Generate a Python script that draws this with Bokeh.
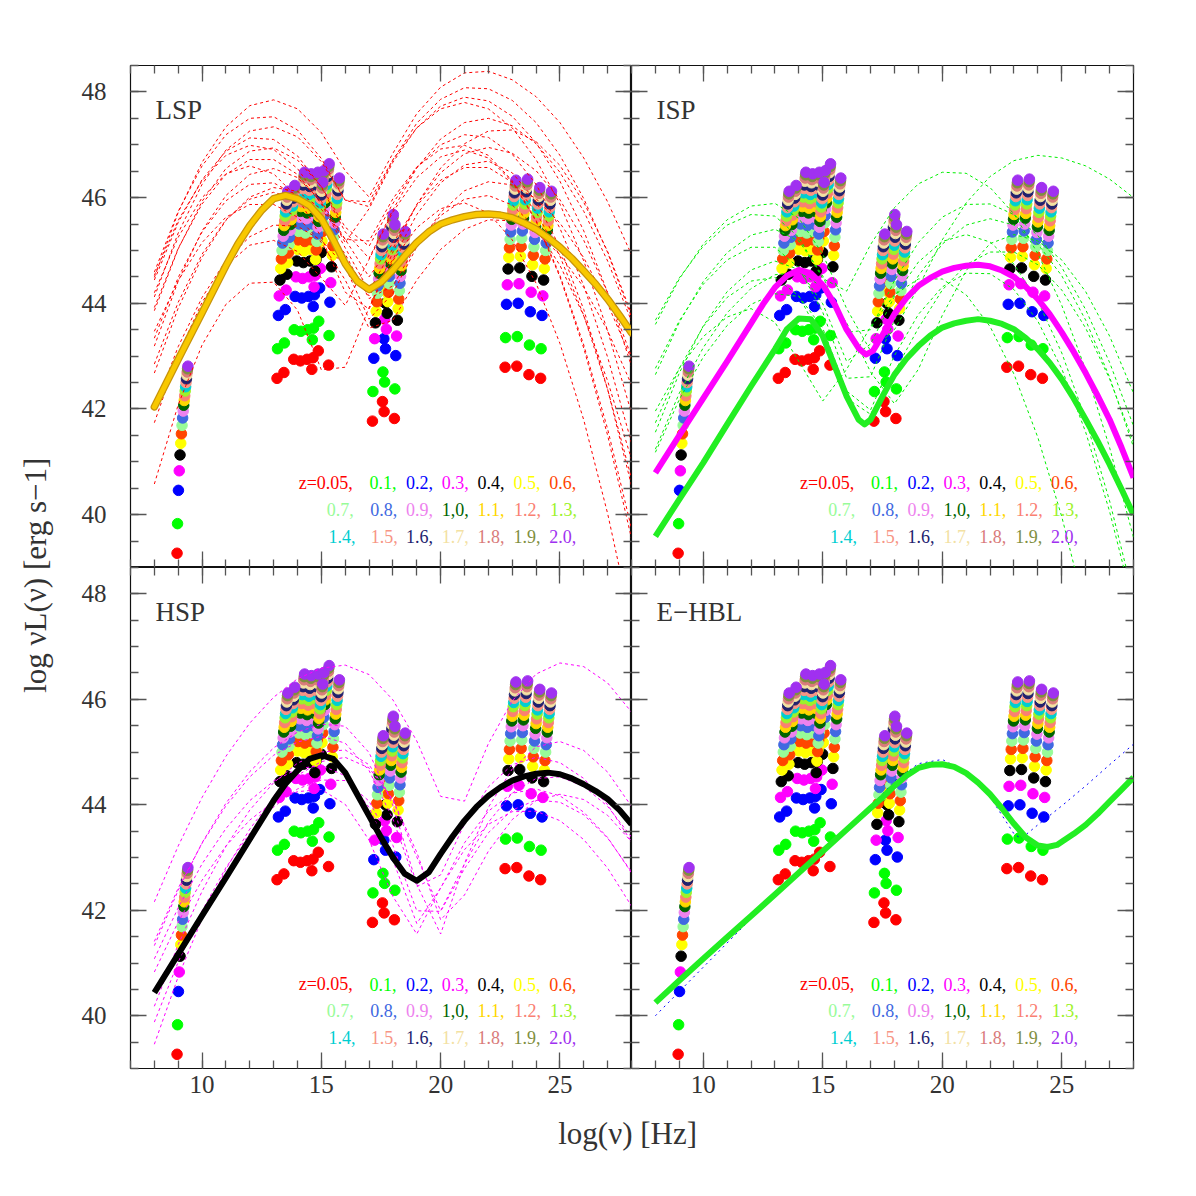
import numpy as np
from bokeh.plotting import figure
from bokeh.models import LinearAxis, Range1d, SingleIntervalTicker, Label
from bokeh.layouts import row, column
from bokeh.embed import file_html
from bokeh.resources import INLINE

# ------------------------------------------------------------------ data
z_values = [0.05, 0.1, 0.2, 0.3, 0.4, 0.5, 0.6, 0.7, 0.8, 0.9, 1.0,
            1.1, 1.2, 1.3, 1.4, 1.5, 1.6, 1.7, 1.8, 1.9, 2.0]
z_labels = ["z=0.05,", "0.1,", "0.2,", "0.3,", "0.4,", "0.5,", "0.6,",
            "0.7,", "0.8,", "0.9,", "1,0,", "1.1,", "1.2,", "1.3,",
            "1.4,", "1.5,", "1.6,", "1.7,", "1.8,", "1.9,", "2.0,"]
z_colors = ["#ff0000", "#00ff00", "#0000ff", "#ff00ff", "#000000", "#ffff00", "#ff4500",
            "#98fb98", "#4169e1", "#ee82ee", "#006400", "#ffd700", "#fa8072", "#9cf22a",
            "#00ced1", "#f79585", "#22226e", "#f3e1a3", "#d97b7b", "#7f8f3f", "#a030f0"]
# luminosity of the limit at each z, relative to z=0.05 (read from the radio column)
lum_offset = [0.0, 0.56, 1.19, 1.56, 1.86, 2.08, 2.26, 2.42, 2.56, 2.69, 2.80,
              2.89, 2.98, 3.07, 3.15, 3.23, 3.30, 3.37, 3.43, 3.49, 3.54]

# observed log frequency of each band column and its log L at z = 0.05
radio_nu = [8.93]
radio_L = [39.27]
optical_nu = [13.12, 13.41, 13.82, 14.10, 14.38, 14.63, 14.85, 14.58, 15.28]
optical_L = [42.58, 42.69, 42.94, 42.91, 42.94, 42.97, 43.10, 42.75, 42.83]
xray_nu = [17.12, 17.54, 17.61, 18.04]
xray_L = [41.77, 42.14, 41.95, 41.82]
gamma_nu = [22.68, 23.17, 23.68, 24.17]
gamma_L = [42.79, 42.81, 42.65, 42.58]

# grid of the thin (dotted) SED curves
sed_x = [8, 9, 10, 11, 12, 13, 14, 15, 16, 17, 18, 19, 20, 21, 22, 23, 24, 25, 26, 27, 28]

lsp_thin = [
    [44.49, 45.72, 46.67, 47.34, 47.74, 47.85, 47.68, 47.23, 46.51, 46.01, 46.84, 47.59, 48.09, 48.36, 48.39, 48.23, 47.91, 47.42, 46.75, 45.92, 44.92],
    [44.59, 45.74, 46.60, 47.19, 47.50, 47.53, 47.28, 46.74, 45.95, 45.83, 46.71, 47.41, 47.86, 48.08, 48.06, 47.84, 47.42, 46.80, 45.98, 44.96, 43.74],
    [44.12, 45.33, 46.25, 46.90, 47.26, 47.34, 47.15, 46.68, 45.95, 45.92, 46.72, 47.32, 47.68, 47.80, 47.68, 47.32, 46.72, 45.88, 44.80, 43.48, 41.92],
    [44.44, 45.53, 46.34, 46.88, 47.13, 47.10, 46.79, 46.20, 45.35, 44.85, 45.77, 46.56, 47.11, 47.42, 47.50, 47.36, 47.02, 46.48, 45.74, 44.80, 43.66],
    [43.86, 45.03, 45.93, 46.55, 46.88, 46.94, 46.71, 46.21, 45.44, 45.08, 45.89, 46.57, 47.00, 47.19, 47.14, 46.82, 46.25, 45.42, 44.33, 42.98, 41.36],
    [43.92, 45.04, 45.88, 46.44, 46.72, 46.72, 46.44, 45.88, 45.05, 44.23, 45.04, 45.87, 46.47, 46.83, 46.95, 46.84, 46.51, 45.96, 45.19, 44.20, 42.99],
    [43.19, 44.42, 45.37, 46.04, 46.44, 46.55, 46.38, 45.93, 45.21, 44.50, 45.14, 45.85, 46.33, 46.57, 46.57, 46.29, 45.73, 44.89, 43.77, 42.37, 40.69],
    [43.34, 44.49, 45.35, 45.94, 46.25, 46.28, 46.03, 45.49, 44.69, 43.70, 44.19, 45.07, 45.72, 46.13, 46.30, 46.24, 45.98, 45.52, 44.86, 43.99, 42.94],
    [42.85, 44.02, 44.93, 45.58, 45.97, 46.10, 45.97, 45.58, 44.93, 44.09, 44.33, 45.11, 45.66, 45.97, 46.04, 45.86, 45.42, 44.72, 43.76, 42.53, 41.05],
    [43.47, 44.43, 45.15, 45.63, 45.87, 45.87, 45.63, 45.15, 44.44, 43.53, 43.68, 44.44, 45.02, 45.40, 45.58, 45.56, 45.34, 44.92, 44.30, 43.48, 42.46],
    [40.58, 42.08, 43.21, 43.98, 44.38, 44.40, 43.87, 42.74, 42.79, 43.92, 44.81, 45.43, 45.79, 45.90, 45.71, 45.20, 44.38, 43.24, 41.79, 40.02, 37.94],
    [41.74, 43.03, 44.02, 44.71, 45.10, 45.19, 44.98, 44.48, 43.96, 44.83, 45.73, 46.38, 46.77, 46.90, 46.75, 46.30, 45.55, 44.50, 43.15, 41.50, 39.55],
    [44.53, 45.57, 46.32, 46.80, 46.99, 46.91, 46.55, 45.91, 45.15, 45.79, 46.67, 47.32, 47.73, 47.90, 47.83, 47.54, 47.04, 46.31, 45.37, 44.20, 42.81],
    [42.68, 43.91, 44.87, 45.57, 46.01, 46.19, 46.12, 45.78, 45.21, 45.18, 45.98, 46.58, 46.92, 46.99, 46.80, 46.32, 45.57, 44.53, 43.21, 41.62, 39.74],
    [44.20, 45.25, 46.00, 46.45, 46.60, 46.45, 46.00, 45.25, 44.21, 43.89, 44.97, 45.87, 46.56, 47.02, 47.26, 47.28, 47.06, 46.61, 45.91, 44.98, 43.80],
    [42.00, 43.18, 44.11, 44.81, 45.26, 45.48, 45.46, 45.19, 44.70, 44.14, 44.83, 45.68, 46.28, 46.62, 46.69, 46.47, 45.93, 45.06, 43.88, 42.37, 40.55],
]
isp_thin = [
    [43.60, 44.46, 45.12, 45.58, 45.84, 45.89, 45.61, 44.93, 43.90, 43.10, 43.50, 44.30, 45.20, 45.90, 46.40, 46.70, 46.80, 46.75, 46.60, 46.35, 46.00],
    [43.68, 44.48, 45.08, 45.48, 45.68, 45.65, 45.25, 44.47, 44.23, 45.11, 45.81, 46.26, 46.48, 46.46, 46.19, 45.69, 44.94, 43.96, 42.74, 41.27, 39.57],
    [42.65, 43.64, 44.41, 44.96, 45.29, 45.40, 45.18, 44.52, 43.45, 43.50, 44.43, 45.15, 45.63, 45.87, 45.88, 45.68, 45.28, 44.68, 43.88, 42.88, 41.68],
    [42.77, 43.67, 44.36, 44.82, 45.06, 45.06, 44.67, 43.83, 42.58, 42.61, 43.68, 44.52, 45.12, 45.48, 45.60, 45.48, 45.12, 44.52, 43.68, 42.60, 41.28],
    [41.56, 42.68, 43.57, 44.22, 44.63, 44.80, 44.64, 43.99, 42.90, 43.23, 44.13, 44.78, 45.17, 45.30, 45.16, 44.74, 44.04, 43.06, 41.80, 40.26, 38.44],
    [41.74, 42.77, 43.56, 44.11, 44.42, 44.49, 44.14, 43.29, 42.20, 41.90, 42.70, 43.53, 44.25, 44.73, 44.97, 44.97, 44.73, 44.25, 43.53, 42.57, 41.37],
    [41.18, 42.18, 42.98, 43.58, 43.98, 44.18, 44.13, 43.53, 42.34, 41.98, 43.01, 43.79, 44.31, 44.57, 44.56, 44.26, 43.66, 42.76, 41.56, 40.06, 38.26],
    [41.96, 42.77, 43.37, 43.74, 43.90, 43.64, 42.90, 42.15, 42.75, 43.56, 44.16, 44.46, 44.46, 44.16, 43.56, 42.66, 41.46, 39.96, 38.16, 36.06, 33.66],
    [41.24, 42.30, 43.16, 43.82, 44.28, 44.54, 44.59, 44.31, 43.63, 42.70, 42.10, 42.75, 43.77, 44.62, 45.13, 45.30, 45.18, 44.82, 44.22, 43.38, 42.30],
]
hsp_thin = [
    [42.16, 43.22, 44.14, 44.92, 45.55, 46.04, 46.39, 46.59, 46.65, 46.47, 45.99, 45.21, 44.16, 44.07, 45.16, 45.97, 46.48, 46.69, 46.62, 46.31, 45.76],
    [41.33, 42.38, 43.28, 44.03, 44.63, 45.08, 45.38, 45.53, 45.49, 44.99, 43.99, 42.49, 41.55, 42.89, 43.95, 44.68, 45.10, 45.20, 45.03, 44.62, 43.97],
    [41.41, 42.42, 43.27, 43.98, 44.53, 44.94, 45.19, 45.30, 45.17, 44.65, 43.73, 42.45, 42.67, 43.64, 44.34, 44.76, 44.90, 44.80, 44.50, 44.00, 43.30],
    [40.18, 41.35, 42.36, 43.21, 43.90, 44.42, 44.79, 45.00, 45.04, 44.76, 44.08, 43.01, 41.99, 42.88, 43.67, 44.22, 44.50, 44.53, 44.35, 43.97, 43.39],
    [41.08, 42.05, 42.88, 43.55, 44.08, 44.45, 44.68, 44.75, 44.55, 43.95, 42.95, 41.75, 42.42, 43.28, 43.88, 44.22, 44.30, 44.17, 43.86, 43.38, 42.71],
    [39.88, 41.02, 41.99, 42.81, 43.46, 43.96, 44.30, 44.47, 44.46, 44.07, 43.23, 41.99, 41.98, 42.79, 43.47, 43.90, 44.09, 44.05, 43.81, 43.37, 42.73],
    [40.83, 41.78, 42.57, 43.22, 43.71, 44.06, 44.25, 44.29, 44.01, 43.33, 42.26, 41.55, 42.43, 43.15, 43.63, 43.87, 43.88, 43.70, 43.34, 42.80, 42.08],
    [39.46, 40.74, 41.84, 42.78, 43.54, 44.14, 44.56, 44.82, 44.90, 44.70, 44.10, 43.10, 41.82, 42.29, 43.12, 43.72, 44.08, 44.20, 44.10, 43.80, 43.30],
]
ehbl_thin_x = [8, 9, 10, 11, 12, 13, 14, 15, 16, 17, 18, 19, 20, 21, 22, 22.5, 23, 23.3, 24, 25, 26, 27, 28]
ehbl_thin_y = [40.0, 40.46, 40.92, 41.38, 41.84, 42.3, 42.72, 43.13, 43.55, 43.97, 44.45, 44.78, 44.86,
               44.62, 44.15, 43.8, 43.45, 43.36, 43.62, 43.98, 44.36, 44.76, 45.15]

# thick average SEDs
lsp_avg_x = [8, 9, 10, 11, 11.5, 12, 12.5, 13, 13.5, 14, 14.5, 15, 15.5, 16, 16.5, 17, 17.5, 18, 18.5,
             19, 19.5, 20, 20.5, 21, 21.5, 22, 22.5, 23, 23.5, 24, 24.5, 25, 25.5, 26, 26.5, 27, 27.5, 28]
lsp_avg_y = [42.04, 42.94, 43.82, 44.71, 45.12, 45.47, 45.76, 45.98, 46.04, 45.98, 45.85, 45.6, 45.2,
             44.75, 44.42, 44.26, 44.4, 44.63, 44.9, 45.15, 45.35, 45.5, 45.58, 45.64, 45.68, 45.69,
             45.67, 45.62, 45.52, 45.40, 45.24, 45.06, 44.85, 44.61, 44.36, 44.08, 43.77, 43.44]
isp_hi_x = [8, 9, 10, 11, 12, 12.5, 13, 13.5, 14, 14.5, 15, 15.5, 16, 16.5, 16.8, 17.1, 17.5, 18, 18.5,
            19, 19.5, 20, 20.5, 21, 21.5, 22, 22.5, 23, 23.5, 24, 24.5, 25, 25.5, 26, 26.5, 27, 27.5, 28]
isp_hi_y = [40.79, 41.5, 42.2, 42.9, 43.62, 43.98, 44.3, 44.52, 44.63, 44.57, 44.35, 43.98, 43.5, 43.15,
            43.03, 43.1, 43.4, 43.8, 44.1, 44.33, 44.48, 44.6, 44.67, 44.71, 44.73, 44.7, 44.62, 44.5,
            44.31, 44.08, 43.79, 43.45, 43.08, 42.68, 42.25, 41.8, 41.27, 40.7]
isp_lo_x = [8, 9, 10, 11, 12, 12.5, 13, 13.5, 14, 14.5, 15, 15.5, 16, 16.5, 16.75, 17, 17.5, 18, 18.5,
            19, 19.5, 20, 20.5, 21, 21.5, 22, 22.5, 23, 23.5, 24, 24.5, 25, 25.5, 26, 26.5, 27, 27.5, 28]
isp_lo_y = [39.59, 40.29, 40.98, 41.71, 42.43, 42.78, 43.13, 43.51, 43.71, 43.70, 43.38, 42.81, 42.24,
            41.80, 41.71, 41.80, 42.24, 42.65, 42.95, 43.19, 43.39, 43.54, 43.62, 43.67, 43.70, 43.67,
            43.61, 43.51, 43.34, 43.13, 42.87, 42.56, 42.2, 41.80, 41.39, 40.95, 40.48, 40.0]
hsp_avg_x = [8, 9, 10, 11, 12, 13, 13.5, 14, 14.5, 15, 15.5, 16, 16.5, 17, 17.5, 18, 18.5, 19, 19.5,
             20, 20.5, 21, 21.5, 22, 22.5, 23, 23.5, 24, 24.5, 25, 25.5, 26, 26.5, 27, 27.5, 28]
hsp_avg_y = [40.44, 41.17, 41.90, 42.62, 43.35, 44.08, 44.4, 44.65, 44.87, 44.94, 44.87, 44.61, 44.20,
             43.79, 43.38, 43.0, 42.69, 42.56, 42.72, 43.07, 43.4, 43.70, 43.96, 44.17, 44.33, 44.46,
             44.54, 44.59, 44.61, 44.58, 44.5, 44.39, 44.26, 44.11, 43.9, 43.63]
ehbl_avg_x = [8, 9, 10, 11, 12, 13, 14, 15, 16, 17, 17.5, 18, 18.5, 19, 19.5, 20, 20.5, 21, 21.5, 22,
              22.5, 23, 23.5, 24, 24.4, 24.8, 25, 25.5, 26, 26.5, 27, 27.5, 28]
ehbl_avg_y = [40.25, 40.67, 41.08, 41.49, 41.89, 42.30, 42.71, 43.12, 43.53, 43.94, 44.14, 44.36, 44.55,
              44.70, 44.76, 44.77, 44.72, 44.60, 44.42, 44.20, 43.93, 43.64, 43.38, 43.23, 43.20, 43.24,
              43.30, 43.45, 43.62, 43.83, 44.06, 44.29, 44.52]

# ------------------------------------------------------------------ style
FONT = "Liberation Serif"
legend_rows_x = [[14.05, 17.02, 18.55, 20.05, 21.55, 23.05, 24.55],
                 [15.23, 17.05, 18.55, 20.05, 21.55, 23.07, 24.58],
                 [15.30, 17.07, 18.55, 20.05, 21.55, 23.05, 24.55]]
legend_rows_y = [40.60, 40.10, 39.59]

# detection-limit points: rest-frame frequency shifts with log(1+z)
band_nu = radio_nu + optical_nu + xray_nu + gamma_nu
band_L = radio_L + optical_L + xray_L + gamma_L
pt_x, pt_y, pt_c = [], [], []
for i, z in enumerate(z_values):
    for nu, L in zip(band_nu, band_L):
        pt_x.append(nu + np.log10(1.0 + z))
        pt_y.append(L + lum_offset[i])
        pt_c.append(z_colors[i])


def style_axis(ax, show, standoff):
    ax.axis_line_color = None
    ax.major_tick_in = 16
    ax.major_tick_out = 0
    ax.minor_tick_in = 8
    ax.minor_tick_out = 0
    ax.major_tick_line_color = "#555555"
    ax.minor_tick_line_color = "#555555"
    ax.major_tick_line_width = 1.3
    ax.minor_tick_line_width = 1.3
    if show:
        ax.major_label_text_font = FONT
        ax.major_label_text_font_size = "25px"
        ax.major_label_text_color = "#333333"
        ax.major_label_standoff = standoff
    else:
        # tick marks only: labels are not painted and take almost no room
        ax.major_label_text_color = None
        ax.major_label_text_font_size = "1px"
        ax.major_label_standoff = 0


def make_panel(name, show_left, show_bottom, fw, fh, bl, br, bt, bb):
    p = figure(frame_width=fw, frame_height=fh, x_range=Range1d(7, 28), y_range=Range1d(39, 48.5),
               x_axis_location=None, y_axis_location=None, toolbar_location=None,
               output_backend="svg", min_border_left=bl, min_border_right=br,
               min_border_top=bt, min_border_bottom=bb)
    p.title.visible = False
    p.grid.visible = False
    p.outline_line_color = "#111111"
    p.outline_line_width = 1.2
    p.background_fill_color = "white"
    p.border_fill_color = "white"
    for loc, show in (("below", show_bottom), ("above", False)):
        ax = LinearAxis(ticker=SingleIntervalTicker(interval=5, num_minor_ticks=5))
        style_axis(ax, show, 7)
        p.add_layout(ax, loc)
    for loc, show in (("left", show_left), ("right", False)):
        ax = LinearAxis(ticker=SingleIntervalTicker(interval=2, num_minor_ticks=4))
        style_axis(ax, show, 24)
        p.add_layout(ax, loc)
    p.scatter(pt_x, pt_y, size=10.5, color=pt_c, marker="circle")
    for r, xs in enumerate(legend_rows_x):
        for k, lx in enumerate(xs):
            idx = r * 7 + k
            p.add_layout(Label(x=lx, y=legend_rows_y[r], text=z_labels[idx], text_color=z_colors[idx],
                               text_font=FONT, text_font_size="18px", text_baseline="middle",
                               text_align="left"))
    p.add_layout(Label(x=8.05, y=47.66, text=name, text_color="#333333", text_font=FONT,
                       text_font_size="27px", text_baseline="middle", text_align="left"))
    return p


tl = make_panel("LSP", True, False, 501, 502, 58, 0, 65, 0)
tr = make_panel("ISP", False, False, 502, 502, 0, 63, 65, 0)
bl = make_panel("HSP", True, True, 501, 501, 58, 0, 0, 40)
br = make_panel("E\u2212HBL", False, True, 502, 501, 0, 63, 0, 40)

DASH = "3 3"
tl.multi_line([sed_x] * len(lsp_thin), lsp_thin, color="#ff0000", line_width=1, line_dash=DASH)
tl.line(lsp_avg_x, lsp_avg_y, color="#c8940a", line_width=7.5, line_join="round", line_cap="round")
tl.line(lsp_avg_x, lsp_avg_y, color="#f8c800", line_width=5, line_join="round", line_cap="round")

tr.multi_line([sed_x] * len(isp_thin), isp_thin, color="#00ee00", line_width=1, line_dash=DASH)
tr.line(isp_hi_x, isp_hi_y, color="#ff00ff", line_width=6, line_join="round")
tr.line(isp_lo_x, isp_lo_y, color="#22ee22", line_width=6, line_join="round")

bl.multi_line([sed_x] * len(hsp_thin), hsp_thin, color="#ff00ff", line_width=1, line_dash=DASH)
bl.line(hsp_avg_x, hsp_avg_y, color="#000000", line_width=6, line_join="round")

br.line(ehbl_thin_x, ehbl_thin_y, color="#0000ff", line_width=1, line_dash="2 4")
br.line(ehbl_avg_x, ehbl_avg_y, color="#22ee22", line_width=6, line_join="round")


def strip(w, h):
    s = figure(frame_width=w, frame_height=h, x_range=Range1d(0, 1), y_range=Range1d(0, 1),
               x_axis_location=None, y_axis_location=None, toolbar_location=None,
               output_backend="svg", min_border=0, outline_line_color=None)
    s.title.visible = False
    s.grid.visible = False
    return s


ls = strip(72, 1108)
ls.add_layout(Label(x=35, y=1108 - 567, x_units="screen", y_units="screen",
                    text="log  \u03bdL(\u03bd)  [erg s\u22121]", angle=np.pi / 2,
                    text_font=FONT, text_font_size="31px", text_color="#333333",
                    text_align="center", text_baseline="middle"))
bs = strip(1196, 88)
bs.add_layout(Label(x=631, y=88 - 25, x_units="screen", y_units="screen",
                    text="log(\u03bd)  [Hz]", text_font=FONT, text_font_size="31px",
                    text_color="#333333", text_align="center", text_baseline="middle"))

layout = column(row(ls, column(row(tl, tr), row(bl, br))), bs)
open("out.html", "w").write(file_html(layout, INLINE))
